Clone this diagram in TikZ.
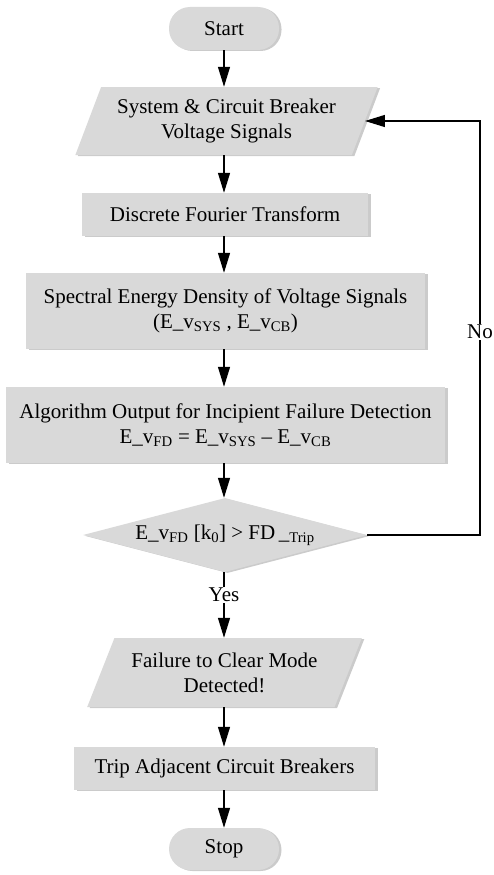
\documentclass[tikz,border=0pt]{standalone}
\usepackage{fontspec}
\setmainfont{Liberation Serif}
\usetikzlibrary{shapes.geometric,shadows,arrows.meta}
\definecolor{boxfill}{HTML}{D9D9D9}
\definecolor{shadowcol}{HTML}{8C8C8C}
\begin{document}
\begin{tikzpicture}[x=1pt,y=-1pt,
  base/.style={fill=boxfill,draw=none,inner sep=0pt,align=center,
    font=\fontsize{21}{25}\selectfont,
    drop shadow={shadow xshift=2.5pt,shadow yshift=-1pt,fill=shadowcol,opacity=0.45}},
  term/.style={base,rectangle,rounded corners=21pt,minimum width=110pt,minimum height=43pt},
  proc/.style={base,rectangle,minimum height=43pt},
  io/.style={base,trapezium,trapezium left angle=#1,trapezium right angle=180-#1,trapezium stretches=true,minimum height=68pt},
  decision/.style={base,diamond,aspect=3.84,minimum width=284pt,minimum height=74pt},
  conn/.style={line width=1.3pt,-{Triangle[length=20pt,width=12pt]}},
  lbl/.style={fill=white,inner sep=1pt,font=\fontsize{21}{25}\selectfont}]
\useasboundingbox (0,0) rectangle (493,875);
\node[term] (start) at (224,28.5) {Start};
\node[io=63,minimum width=303pt] (p1) at (226.5,121) {System \& Circuit Breaker\\Voltage Signals};
\node[proc,minimum width=286pt] (dft) at (225,214.5) {Discrete Fourier Transform};
\node[proc,minimum width=399pt,minimum height=76pt] (sed) at (225.5,311) {Spectral Energy Density of Voltage Signals\\(E\_v\textsubscript{SYS} , E\_v\textsubscript{CB})};
\node[proc,minimum width=439pt,minimum height=76pt] (alg) at (225.5,425) {Algorithm Output for Incipient Failure Detection\\E\_v\textsubscript{FD} = E\_v\textsubscript{SYS} -- E\_v\textsubscript{CB}};
\node[decision] (dec) at (225,535) {E\_v\textsubscript{FD} [k\textsubscript{0}] > FD\,\_\textsubscript{Trip}};
\node[io=60,minimum width=275pt,minimum height=69pt] (p2) at (224.5,672.5) {Failure to Clear Mode\\Detected!};
\node[proc,minimum width=301pt] (trip) at (224.5,768.5) {Trip Adjacent Circuit Breakers};
\node[term,minimum height=42pt] (stop) at (224,849) {Stop};
\coordinate (fb) at (480,535);
\draw[conn] (start.south) -- (start.south |- p1.north);
\draw[conn] (p1.south -| start.south) -- (start.south |- dft.north);
\draw[conn] (dft.south -| start.south) -- (start.south |- sed.north);
\draw[conn] (sed.south -| start.south) -- (start.south |- alg.north);
\draw[conn] (alg.south -| start.south) -- (start.south |- dec.north);
\draw[conn] (dec.south -| start.south) -- node[lbl,pos=0.35]{Yes} (start.south |- p2.north);
\draw[conn] (p2.south -| start.south) -- (start.south |- trip.north);
\draw[conn] (trip.south -| start.south) -- (start.south |- stop.north);
\draw[conn] (dec.east) -- (fb) |- node[lbl,pos=0.245]{No} (p1.east);
\end{tikzpicture}
\end{document}
